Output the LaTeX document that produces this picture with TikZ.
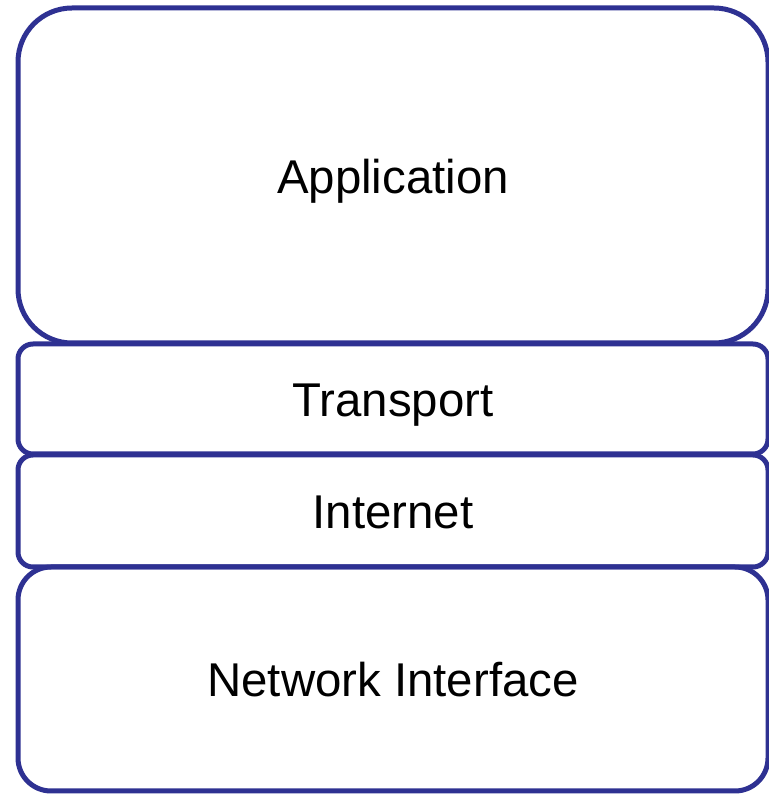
\documentclass[tikz,border=0pt]{standalone}
\usepackage{fontspec}
\setmainfont{Liberation Sans}
\definecolor{layerblue}{RGB}{46,49,146}
\begin{document}
\begin{tikzpicture}[x=1pt,y=1pt,
  layer/.style={draw=layerblue, line width=5pt, fill=none, inner sep=0pt,
    minimum width=750pt, text height=36pt, text depth=0pt,
    font=\fontsize{47.4}{56}\selectfont}]
\useasboundingbox (0,0) rectangle (769,796);
% four stacked protocol layers, top to bottom
\node[layer, rounded corners=54pt, minimum height=335pt] (app) at (393,620.5) {Application};
\node[layer, rounded corners=15pt, minimum height=110pt] (transport) at (393,397) {Transport};
\node[layer, rounded corners=15pt, minimum height=112pt] (internet) at (393,285) {Internet};
\node[layer, rounded corners=33pt, minimum height=224pt] (netif) at (393,117) {Network Interface};
\end{tikzpicture}
\end{document}
